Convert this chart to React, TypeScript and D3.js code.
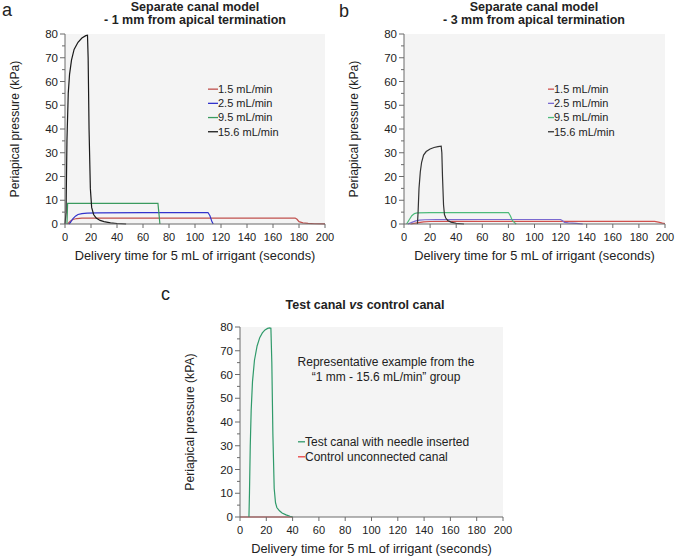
import * as d3 from 'd3'

// ---- data (seconds, kPa) ----
const xTicks = [0, 20, 40, 60, 80, 100, 120, 140, 160, 180, 200]
const yTicks = [0, 10, 20, 30, 40, 50, 60, 70, 80]
const yMinorTicks = [5, 15, 25, 35, 45, 55, 65, 75]

const flowLabels = ['1.5 mL/min', '2.5 mL/min', '9.5 mL/min', '15.6 mL/min']

// panel a: 1 mm from apical termination
const a15t = [0, 0.8, 1.5, 2.5, 3.5, 5, 7, 10, 13, 16, 17.3, 17.8, 18.5, 19.5, 20.5, 22, 24, 27, 30, 35, 40, 47]
const a15v = [0, 5, 35, 55, 63, 69, 73.5, 76.5, 78.3, 79.3, 79.5, 70, 40, 15, 7, 4, 2.5, 1.5, 1, 0.5, 0.2, 0]
const a95t = [1.5, 2, 3, 71.5, 72.5, 73]
const a95v = [0, 8.7, 8.7, 8.7, 3, 0]
const a25t = [3, 4, 6, 8, 10, 13, 17, 25, 60, 100, 110, 111.5, 113, 114]
const a25v = [0, 0.5, 2.2, 3.3, 4.0, 4.4, 4.6, 4.7, 4.75, 4.8, 4.85, 3.5, 1, 0]
const a15mt = [2, 4, 6, 9, 13, 20, 100, 177, 178.5, 180, 183, 187, 192, 200]
const a15mv = [0, 1.2, 1.9, 2.3, 2.45, 2.5, 2.5, 2.5, 2.0, 1.0, 0.5, 0.25, 0.1, 0.05]

// panel b: 3 mm from apical termination
const b15t = [10.3, 10.8, 11.5, 12.5, 13.5, 15, 17, 20, 23, 26, 28.5, 29, 29.5, 30.3, 31, 32, 33.5, 36, 40, 46]
const b15v = [0, 5, 15, 22, 26, 29, 30.5, 31.6, 32.2, 32.6, 32.8, 30, 20, 8, 4, 2.5, 1.5, 0.8, 0.3, 0]
const b95t = [2, 4, 6, 8, 10, 20, 50, 80, 81.5, 83, 85, 86]
const b95v = [0, 1.8, 3.5, 4.4, 4.7, 4.8, 4.8, 4.85, 3.5, 1.5, 0.4, 0]
const b25t = [3, 6, 9, 12, 16, 25, 60, 100, 120, 121.5, 123, 126, 132, 137]
const b25v = [0, 0.7, 1.3, 1.6, 1.8, 1.85, 1.9, 1.9, 1.9, 1.4, 0.7, 0.5, 0.3, 0]
const b15mt = [5, 10, 15, 20, 40, 100, 160, 192, 195, 198, 200]
const b15mv = [0, 0.5, 0.9, 1.05, 1.1, 1.1, 1.1, 1.1, 0.8, 0.4, 0.2]

// panel c: test vs control canal
const cTestT = [6.8, 7.2, 7.8, 8.5, 9.5, 11, 13, 15, 17, 19, 21, 22.5, 23.5, 24.2, 25, 26, 27, 28, 30, 32, 35, 38, 40]
const cTestV = [0, 10, 30, 45, 57, 66, 72, 75.5, 77.5, 78.8, 79.4, 79.6, 79.5, 65, 35, 12, 6, 4, 2.6, 1.7, 0.9, 0.3, 0]
const cCtrlT = [0, 40]
const cCtrlV = [0, 0]

const FONT = "Arial, 'Liberation Sans', sans-serif"
const AXIS = '#6b6b6b'

type Series = { t: number[]; v: number[]; color: string }

const zip = (t: number[], v: number[]) => t.map((d, i) => [d, v[i]] as [number, number])

function Panel({
  x0, x1, y0, y1, series, yLabel,
}: {
  x0: number; x1: number; y0: number; y1: number; series: Series[]; yLabel: string
}) {
  const x = d3.scaleLinear().domain([0, 200]).range([x0, x1])
  const y = d3.scaleLinear().domain([0, 80]).range([y1, y0])
  const line = d3.line<[number, number]>().x(d => x(d[0])).y(d => y(d[1]))
  return (
    <g>
      <rect x={x(0)} y={y(80)} width={x(200) - x(0)} height={y(0) - y(80)} fill="#f4f4f4" />
      {series.map((s, i) => (
        <path key={i} d={line(zip(s.t, s.v)) ?? ''} fill="none" stroke={s.color} strokeWidth={1.2} />
      ))}
      <line x1={x(0)} x2={x(0)} y1={y(0)} y2={y(80)} stroke={AXIS} />
      <line x1={x(0)} x2={x(200)} y1={y(0)} y2={y(0)} stroke={AXIS} />
      {yTicks.map(t => (
        <g key={t}>
          <line x1={x(0) - 5} x2={x(0)} y1={y(t)} y2={y(t)} stroke={AXIS} />
          <text x={x(0) - 7} y={y(t) + 4} textAnchor="end" fontSize={11.5} fontFamily={FONT} fill="#222">{t}</text>
        </g>
      ))}
      {yMinorTicks.map(t => (
        <line key={t} x1={x(0) - 3} x2={x(0)} y1={y(t)} y2={y(t)} stroke={AXIS} />
      ))}
      {xTicks.map(t => (
        <g key={t}>
          <line x1={x(t)} x2={x(t)} y1={y(0)} y2={y(0) + 4} stroke={AXIS} />
          <text x={x(t)} y={y(0) + 17} textAnchor="middle" fontSize={11} fontFamily={FONT} fill="#222">{t}</text>
        </g>
      ))}
      <text x={(x0 + x1) / 2} y={y(0) + 36} textAnchor="middle" fontSize={12.8} fontFamily={FONT} fill="#222">
        Delivery time for 5 mL of irrigant (seconds)
      </text>
      <text transform={`translate(${x0 - 46},${(y0 + y1) / 2}) rotate(-90)`} textAnchor="middle" fontSize={12.2} fontFamily={FONT} fill="#222">
        {yLabel}
      </text>
    </g>
  )
}

function Legend({ x, y, labels, colors, lineW, fontSize, dy }: {
  x: number; y: number; labels: string[]; colors: string[]; lineW: number; fontSize: number; dy: number
}) {
  return (
    <g>
      {labels.map((l, i) => (
        <g key={l}>
          <line x1={x} x2={x + lineW} y1={y + i * dy - fontSize * 0.35} y2={y + i * dy - fontSize * 0.35} stroke={colors[i]} strokeWidth={1.3} />
          <text x={x + lineW} y={y + i * dy} fontSize={fontSize} fontFamily={FONT} fill="#222">{l}</text>
        </g>
      ))}
    </g>
  )
}

const aColors = ['#c0504d', '#3333cc', '#3a9a5e', '#1a1a1a']
const bColors = ['#d0504d', '#7a6ad0', '#4cba7a', '#333333']
const cColors = ['#2f9a6a', '#e84040']

export default function App() {
  const aSeries: Series[] = [
    { t: a15mt, v: a15mv, color: aColors[0] },
    { t: a25t, v: a25v, color: aColors[1] },
    { t: a95t, v: a95v, color: aColors[2] },
    { t: a15t, v: a15v, color: aColors[3] },
  ]
  const bSeries: Series[] = [
    { t: b15mt, v: b15mv, color: bColors[0] },
    { t: b25t, v: b25v, color: bColors[1] },
    { t: b95t, v: b95v, color: bColors[2] },
    { t: b15t, v: b15v, color: bColors[3] },
  ]
  const cSeries: Series[] = [
    { t: cCtrlT, v: cCtrlV, color: cColors[1] },
    { t: cTestT, v: cTestV, color: cColors[0] },
  ]
  return (
    <svg width={675} height={558} style={{ position: 'absolute', left: 0, top: 0, background: '#fff' }}>
      {/* panel a */}
      <text x={2} y={16} fontSize={18} fontFamily={FONT} fill="#222">a</text>
      <text x={195} y={11} textAnchor="middle" fontSize={12.5} fontWeight="bold" fontFamily={FONT} fill="#222">Separate canal model</text>
      <text x={195} y={24} textAnchor="middle" fontSize={12.5} fontWeight="bold" fontFamily={FONT} fill="#222">- 1 mm from apical termination</text>
      <Panel x0={65} x1={325} y0={34} y1={224} series={aSeries} yLabel="Periapical pressure (kPa)" />
      <Legend x={208} y={93} labels={flowLabels} colors={aColors} lineW={10} fontSize={11} dy={14.2} />

      {/* panel b */}
      <text x={339} y={17} fontSize={18} fontFamily={FONT} fill="#222">b</text>
      <text x={534} y={11} textAnchor="middle" fontSize={12.5} fontWeight="bold" fontFamily={FONT} fill="#222">Separate canal model</text>
      <text x={534} y={24} textAnchor="middle" fontSize={12.5} fontWeight="bold" fontFamily={FONT} fill="#222">- 3 mm from apical termination</text>
      <Panel x0={404} x1={665} y0={34} y1={224} series={bSeries} yLabel="Periapical pressure (kPa)" />
      <Legend x={548} y={93} labels={flowLabels} colors={bColors} lineW={6} fontSize={11} dy={14.2} />

      {/* panel c */}
      <text x={161} y={300} fontSize={18} fontFamily={FONT} fill="#222">c</text>
      <text x={365} y={309} textAnchor="middle" fontSize={12.5} fontWeight="bold" fontFamily={FONT} fill="#222">
        Test canal <tspan fontStyle="italic">vs</tspan> control canal
      </text>
      <Panel x0={240} x1={503} y0={327} y1={517} series={cSeries} yLabel="Periapical pressure (kPA)" />
      <text x={386} y={366} textAnchor="middle" fontSize={12} fontFamily={FONT} fill="#222">Representative example from the</text>
      <text x={386} y={381} textAnchor="middle" fontSize={12} fontFamily={FONT} fill="#222">“1 mm - 15.6 mL/min” group</text>
      <Legend x={298} y={446} labels={['Test canal with needle inserted', 'Control unconnected canal']} colors={cColors} lineW={7} fontSize={12} dy={15} />
    </svg>
  )
}
